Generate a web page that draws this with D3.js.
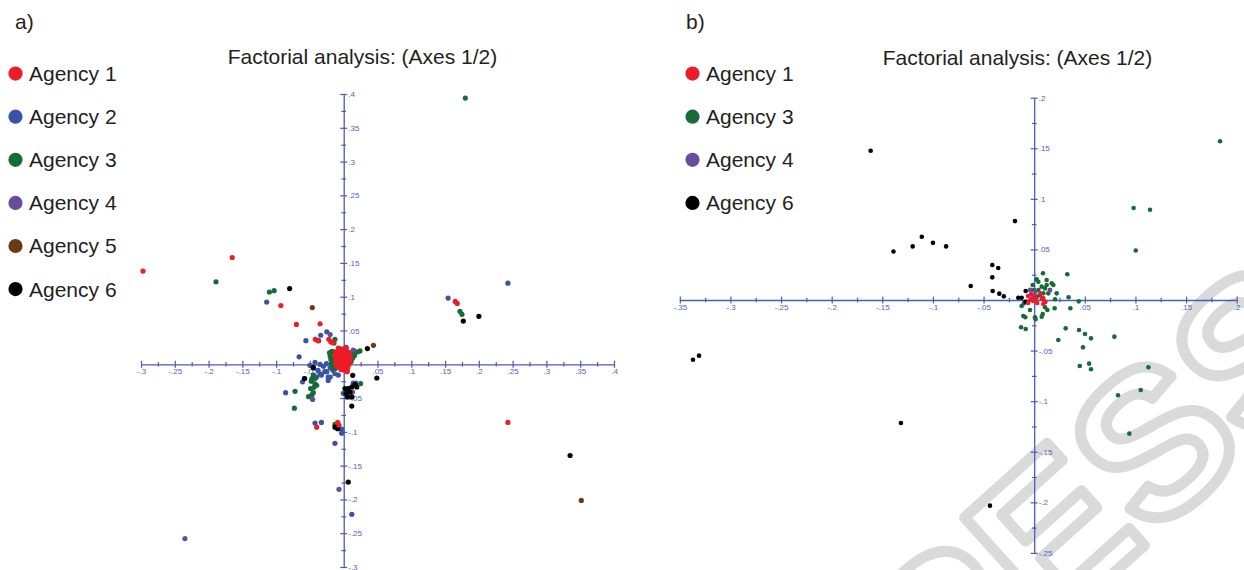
<!DOCTYPE html>
<html>
<head>
<meta charset="utf-8">
<script src="https://cdn.jsdelivr.net/npm/d3@7"></script>
<style>
  body { margin: 0; background: #fff; }
  svg { display: block; }
  text { font-family: "Liberation Sans", Arial, Helvetica, sans-serif; }
</style>
</head>
<body>
<svg id="chart" width="1244" height="570"></svg>
<script>
// ---------- agencies ----------
const agencyNames = ["Agency 1", "Agency 2", "Agency 3", "Agency 4", "Agency 5", "Agency 6"];
const agencyColors = ["#ec1c28", "#3953a6", "#166b36", "#6a4c9e", "#6b3a15", "#000000"];

// ---------- tick values ----------
const ticksA = [-0.3, -0.25, -0.2, -0.15, -0.1, -0.05, 0.05, 0.1, 0.15, 0.2, 0.25, 0.3, 0.35, 0.4];
const ticksBx = [-0.35, -0.3, -0.25, -0.2, -0.15, -0.1, -0.05, 0.05, 0.1, 0.15, 0.2];
const ticksBy = [-0.25, -0.2, -0.15, -0.1, -0.05, 0.05, 0.1, 0.15, 0.2];

// ---------- panel a: factorial coordinates (axis 1, axis 2) ----------
const a_agency1 = [
  [-0.297, 0.138], [-0.165, 0.158], [-0.093, 0.087], [-0.070, 0.059], [-0.035, 0.060],
  [-0.042, 0.037], [-0.038, 0.035], [-0.022, 0.037], [-0.019, 0.033], [-0.016, 0.032],
  [0.165, 0.093], [0.168, 0.090], [0.243, -0.086], [-0.040, -0.093], [-0.009, -0.086],
  [-0.007, -0.090],
  [-0.012, 0.018], [-0.008, 0.021], [-0.004, 0.019], [0.000, 0.022], [0.004, 0.020],
  [0.008, 0.017], [-0.013, 0.012], [-0.009, 0.014], [-0.005, 0.013], [-0.001, 0.015],
  [0.003, 0.014], [0.007, 0.012], [0.010, 0.010], [-0.011, 0.007], [-0.007, 0.008],
  [-0.003, 0.009], [0.001, 0.008], [0.005, 0.007], [0.009, 0.005], [-0.012, 0.002],
  [-0.008, 0.003], [-0.004, 0.002], [0.000, 0.003], [0.004, 0.001], [0.008, 0.000],
  [-0.010, -0.003], [-0.006, -0.004], [-0.002, -0.002], [0.002, -0.004], [0.006, -0.005],
  [-0.004, -0.008], [0.001, -0.009], [0.005, -0.011], [-0.008, 0.024], [0.003, 0.025]
];
const a_agency2 = [
  [-0.114, 0.092], [0.1545, 0.098], [0.243, 0.120], [-0.034, 0.043], [-0.025, 0.048],
  [-0.056, 0.035], [-0.066, 0.011], [-0.086, -0.042], [-0.058, -0.021], [-0.061, -0.026],
  [-0.0425, -0.087], [-0.033, -0.086], [-0.003, -0.096], [-0.003, -0.102], [-0.013, -0.117],
  [0.012, -0.222], [-0.004, 0.023],
  [-0.0425, 0.003], [-0.035, 0.000], [-0.030, -0.003], [-0.0256, 0.001], [-0.020, -0.005],
  [-0.016, -0.009], [-0.013, -0.014], [-0.008, -0.016], [-0.028, -0.011], [-0.033, -0.016],
  [-0.038, -0.009], [-0.045, -0.004], [-0.040, -0.019], [-0.023, -0.019], [-0.0055, -0.004],
  [-0.003, 0.006], [-0.010, 0.006], [-0.050, -0.0015], [-0.035, -0.014], [-0.025, -0.011],
  [-0.020, -0.019], [-0.023, -0.024],
  [-0.0006, -0.043], [0.007, -0.046], [0.012, -0.048], [0.014, -0.028], [0.007, -0.041]
];
const a_agency3 = [
  [0.180, 0.394], [-0.189, 0.122], [-0.110, 0.107], [-0.103, 0.109], [0.172, 0.0785],
  [0.175, 0.074], [-0.037, 0.035], [-0.013, 0.037], [-0.0144, 0.0316], [0.0153, 0.0197],
  [0.0201, 0.0182], [0.0241, 0.0197], [0.0093, 0.0158], [-0.0188, 0.0182],
  [-0.072, -0.040], [-0.073, -0.065], [-0.052, -0.048], [-0.047, -0.045], [-0.045, -0.042],
  [-0.049, -0.036], [-0.044, -0.034], [-0.040, -0.031], [0.025, -0.0286],
  [-0.013, -0.089], [-0.008, -0.095], [-0.0115, -0.093],
  [-0.045, -0.016], [-0.047, -0.021], [-0.0425, -0.021], [-0.048, -0.025], [-0.0425, -0.029],
  [-0.021, 0.017], [-0.017, 0.019], [-0.013, 0.018], [-0.009, 0.016], [-0.005, 0.017],
  [-0.020, 0.012], [-0.016, 0.013], [-0.012, 0.011], [-0.008, 0.010], [-0.004, 0.012],
  [-0.019, 0.007], [-0.015, 0.006], [-0.011, 0.005], [-0.007, 0.004], [-0.018, 0.001],
  [-0.014, 0.000], [-0.010, -0.001], [-0.006, -0.002], [-0.016, -0.005], [-0.012, -0.006],
  [0.004, 0.017], [0.008, 0.015], [0.012, 0.016], [0.016, 0.013], [0.013, 0.009],
  [0.011, 0.004], [-0.003, 0.006]
];
const a_agency4 = [
  [-0.235, -0.258], [-0.020, 0.044], [-0.046, -0.052], [-0.007, -0.185], [0.0167, -0.0286],
  [0.013, -0.041], [0.018, -0.028], [0.007, 0.018], [0.014, 0.021], [0.005, -0.010]
];
const a_agency5 = [
  [-0.0465, 0.084], [0.044, 0.028], [0.3516, -0.2015]
];
const a_agency6 = [
  [-0.080, 0.112], [0.177, 0.064], [0.200, 0.071], [0.335, -0.135], [0.0034, 0.0247],
  [-0.004, 0.017], [0.035, 0.0232], [0.049, -0.0203], [-0.045, -0.005], [-0.058, -0.021],
  [0.0068, -0.1743], [0.0119, -0.0618], [0.0133, -0.0163],
  [0.0019, -0.036], [0.0068, -0.036], [0.0119, -0.0336], [0.0167, -0.0296], [0.0093, -0.041],
  [0.0034, -0.0434], [0.0053, -0.0484], [0.0119, -0.0484], [0.0193, -0.0336],
  [-0.0129, -0.093], [-0.009, -0.0953]
];

// ---------- panel b: factorial coordinates (axis 1, axis 2) ----------
const b_agency1 = [
  [-0.006, 0.004], [-0.003, 0.006], [0.000, 0.004], [-0.004, 0.000], [-0.001, -0.001],
  [0.002, 0.001], [-0.006, -0.003], [0.003, -0.003], [0.009, 0.002], [0.010, -0.001],
  [0.009, -0.004], [0.011, -0.002], [0.006, 0.0066], [0.0074, 0.0017]
];
const b_agency3 = [
  [0.1836, 0.157], [0.0982, 0.0909], [0.1144, 0.0892], [0.1003, 0.049],
  [0.0311, -0.028], [0.0238, -0.0395], [0.0443, -0.0296], [0.0502, -0.0336], [0.0561, -0.0379],
  [0.0792, -0.0362], [0.0482, -0.0468], [0.045, -0.0652], [0.0542, -0.0629], [0.0561, -0.0685],
  [0.1128, -0.0665], [0.1052, -0.0889], [0.0828, -0.0942], [0.094, -0.1321],
  [0.0327, 0.0254], [0.034, 0.0027], [0.044, -0.0013], [0.0357, -0.0082], [0.0206, 0.0007],
  [0.0202, -0.0082], [0.013, -0.0099], [0.0107, -0.0072], [0.0084, -0.0138], [0.0074, -0.0165],
  [0.0008, -0.0171], [-0.0124, -0.0059], [-0.0101, -0.0033], [-0.0041, -0.0099],
  [-0.0107, -0.0158], [-0.0088, -0.0171], [-0.013, -0.027], [-0.0084, -0.0287], [0.0014, -0.019],
  [0.0087, 0.0264], [-0.0015, 0.0148], [0.0025, 0.0204], [0.0123, 0.0198], [0.0173, 0.0165],
  [0.0189, 0.0148], [0.0074, 0.0132], [0.0041, 0.0099], [0.009, 0.0066], [0.0139, 0.0066],
  [0.0057, 0.0049], [0.0025, 0.0033], [0.0156, 0.0099], [0.0107, 0.0115], [0.0123, 0.0148],
  [0.0041, 0.0181], [-0.0002, 0.0099], [0.0222, 0.0066]
];
const b_agency4 = [
  [-0.004, 0.010], [0.001, 0.008], [0.0156, 0.0099], [-0.002, 0.002]
];
const b_agency6 = [
  [-0.1615, 0.1475], [-0.139, 0.048], [-0.120, 0.053], [-0.111, 0.0625], [-0.100, 0.0565],
  [-0.087, 0.053], [-0.019, 0.078], [-0.0627, 0.0138], [-0.0414, 0.0346], [-0.0355, 0.0316],
  [-0.0414, 0.0224], [-0.041, 0.0089], [-0.0345, 0.0063], [-0.030, 0.0036], [-0.0157, 0.0023],
  [-0.0124, 0.0023], [-0.0084, 0.0089], [-0.0084, -0.0017], [-0.337, -0.059], [-0.331, -0.055],
  [-0.1316, -0.1216], [-0.0437, -0.2033]
];

// ---------- drawing ----------
const svg = d3.select("#chart");
const axisColor = "#4a5cb6";
const labelColor = "#4f63c8";
const inkColor = "#231f20";

const fmtTick = d => (d < 0 ? "-" : "") + String(+Math.abs(d).toFixed(3)).replace(/^0\./, ".");
const minorBetween = ticks => {
  const all = [...ticks, 0].sort((p, q) => p - q);
  return all.slice(1).map((d, i) => (d + all[i]) / 2);
};

// "in press" stamp behind panel b
svg.append("text")
  .attr("transform", "translate(837,822) rotate(-42)")
  .attr("font-size", 205)
  .attr("font-weight", "bold")
  .attr("fill", "#ffffff")
  .attr("stroke", "#dadada")
  .attr("stroke-width", 11)
  .attr("stroke-linejoin", "round")
  .text("PRESS");

function drawPanel(p) {
  const g = svg.append("g");
  const x = d3.scaleLinear().domain(p.xDomain).range(p.xRange);
  const y = d3.scaleLinear().domain(p.yDomain).range(p.yRange);

  // panel tag, title
  g.append("text").attr("x", p.tagX).attr("y", 28.5).attr("font-size", 21)
    .attr("fill", inkColor).text(p.tag);
  g.append("text").attr("x", p.titleX).attr("y", p.titleY).attr("font-size", 21)
    .attr("text-anchor", "middle").attr("fill", inkColor).text("Factorial analysis: (Axes 1/2)");

  // legend
  const lg = g.append("g");
  p.series.forEach((s, i) => {
    const cy = 73.6 + i * 43.1;
    lg.append("circle").attr("cx", p.legendX).attr("cy", cy).attr("r", 7.1)
      .attr("fill", agencyColors[s.agency]);
    lg.append("text").attr("x", p.legendX + 13.5).attr("y", cy + 7.4).attr("font-size", 21)
      .attr("fill", inkColor).text(agencyNames[s.agency]);
  });

  // axes crossing at the origin
  const styleAxis = (sel, len, horizontal) => {
    sel.select(".domain").attr("stroke", axisColor).attr("stroke-width", 1.3);
    sel.selectAll(".tick line").attr("stroke", axisColor).attr("stroke-width", 1.2);
    if (horizontal) sel.selectAll(".tick line").attr("y1", -len).attr("y2", len);
    else sel.selectAll(".tick line").attr("x1", -len).attr("x2", len);
    sel.selectAll(".tick text").attr("fill", labelColor).attr("font-size", 8)
      .attr("font-family", "'Liberation Sans', Arial, sans-serif");
  };

  const xMinor = g.append("g").attr("transform", `translate(0,${y(0)})`)
    .call(d3.axisBottom(x).tickValues(minorBetween(p.xTicks)).tickFormat("").tickSizeOuter(0));
  xMinor.select(".domain").remove();
  styleAxis(xMinor, 2.3, true);

  const yMinor = g.append("g").attr("transform", `translate(${x(0)},0)`)
    .call(d3.axisRight(y).tickValues(minorBetween(p.yTicks)).tickFormat("").tickSizeOuter(0));
  yMinor.select(".domain").remove();
  styleAxis(yMinor, 2.3, false);

  const xAxis = g.append("g").attr("transform", `translate(0,${y(0)})`)
    .call(d3.axisBottom(x).tickValues(p.xTicks).tickFormat(fmtTick).tickSizeOuter(0));
  styleAxis(xAxis, 3.5, true);
  xAxis.selectAll(".tick text").attr("y", 4.2);

  const yAxis = g.append("g").attr("transform", `translate(${x(0)},0)`)
    .call(d3.axisRight(y).tickValues(p.yTicks).tickFormat(fmtTick).tickSizeOuter(0));
  styleAxis(yAxis, 3.5, false);
  yAxis.selectAll(".tick text").attr("x", 4.5);

  // observations
  p.drawOrder.forEach(k => {
    const s = p.series[k];
    g.append("g").selectAll("circle").data(s.points).join("circle")
      .attr("cx", d => x(d[0])).attr("cy", d => y(d[1])).attr("r", p.r)
      .attr("fill", agencyColors[s.agency]);
  });
}

drawPanel({
  tag: "a)", tagX: 15, titleX: 362.5, titleY: 63.5, legendX: 15.5,
  xDomain: [-0.3, 0.4], xRange: [141, 614],
  yDomain: [-0.3, 0.4], yRange: [567, 94],
  xTicks: ticksA, yTicks: ticksA, r: 2.6,
  series: [
    { agency: 0, points: a_agency1 }, { agency: 1, points: a_agency2 },
    { agency: 2, points: a_agency3 }, { agency: 3, points: a_agency4 },
    { agency: 4, points: a_agency5 }, { agency: 5, points: a_agency6 }
  ],
  drawOrder: [1, 2, 3, 4, 5, 0]
});

drawPanel({
  tag: "b)", tagX: 686, titleX: 1017.5, titleY: 64.5, legendX: 692.5,
  xDomain: [-0.35, 0.2], xRange: [679.8, 1236.7],
  yDomain: [-0.25, 0.2], yRange: [552.9, 97.7],
  xTicks: ticksBx, yTicks: ticksBy, r: 2.3,
  series: [
    { agency: 0, points: b_agency1 }, { agency: 2, points: b_agency3 },
    { agency: 3, points: b_agency4 }, { agency: 5, points: b_agency6 }
  ],
  drawOrder: [1, 3, 2, 0]
});
</script>
</body>
</html>
